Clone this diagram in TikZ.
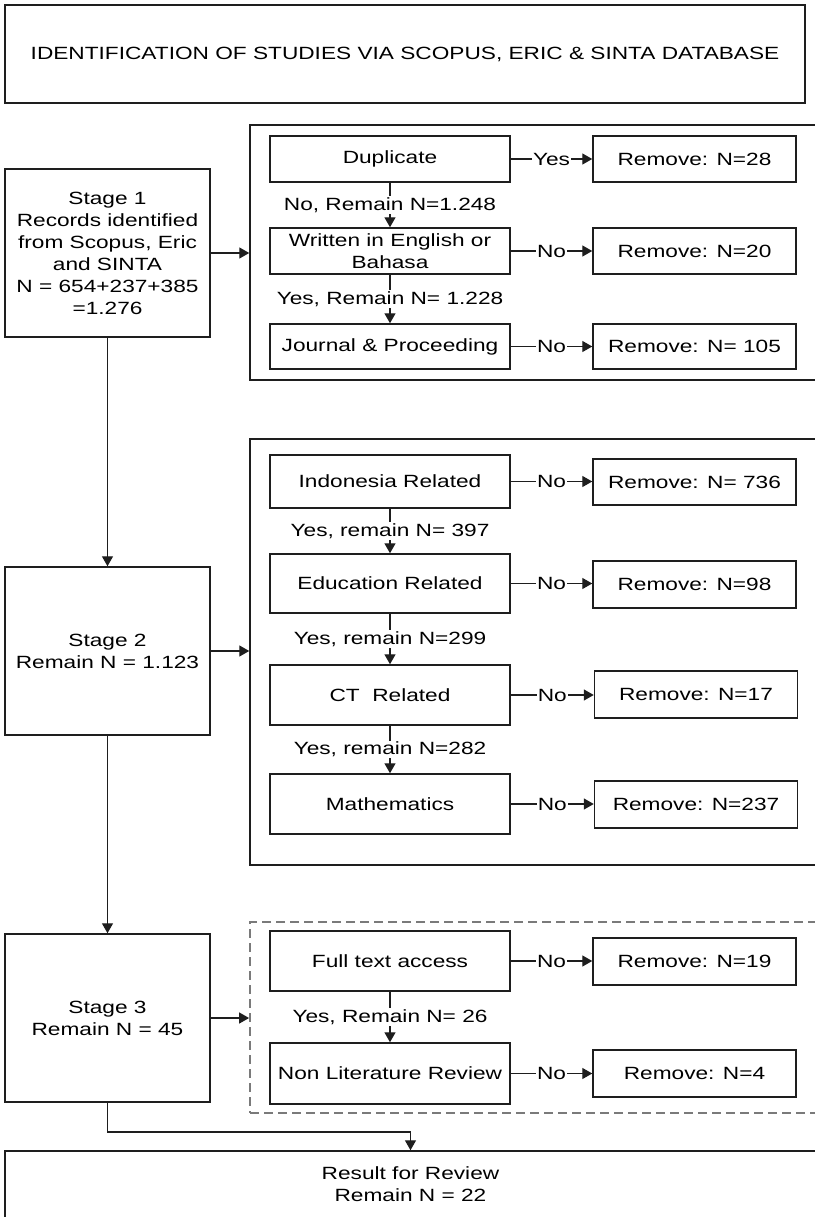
\documentclass[tikz,border=0pt]{standalone}
\usepackage{fontspec}
\setmainfont{Liberation Sans}[FakeStretch=1.28]
\usetikzlibrary{arrows.meta}
\definecolor{ln}{HTML}{1E1E1E}
\definecolor{dsh}{HTML}{7A7A7A}
\begin{document}
\begin{tikzpicture}[x=1pt,y=-1pt,
  bx/.style={draw=ln, line width=1.5pt, inner sep=0pt, align=center, fill=white,
    font=\fontsize{17.7}{22}\selectfont},
  grp/.style={draw=ln, line width=1.5pt, inner sep=0pt},
  dgrp/.style={draw=dsh, line width=1.8pt, dash pattern=on 9pt off 5pt, inner sep=0pt},
  arr/.style={draw=ln, line width=1.4pt, -{Triangle[length=10pt,width=11pt]}},
  lbl/.style={fill=white, inner sep=1pt, font=\fontsize{17.7}{22}\selectfont}
]
\useasboundingbox (0,0) rectangle (814,1217);

% title
\node[bx, minimum width=800, minimum height=98] (title) at (405,54)
  {IDENTIFICATION OF STUDIES VIA SCOPUS, ERIC \& SINTA DATABASE};

% stages
\node[bx, minimum width=205, minimum height=168] (s1) at (107.5,253)
  {Stage 1\\Records identified\\from Scopus, Eric\\and SINTA\\N = 654+237+385\\=1.276};
\node[bx, minimum width=205, minimum height=168] (s2) at (107.5,651)
  {Stage 2\\Remain N = 1.123};
\node[bx, minimum width=205, minimum height=168] (s3) at (107.5,1018)
  {Stage 3\\Remain N = 45};

% groups
\node[grp, minimum width=566, minimum height=255] (g1) at (533,252.5) {};
\node[grp, minimum width=566, minimum height=426] (g2) at (533,652) {};
\node[dgrp, minimum width=566, minimum height=191] (g3) at (533,1017.5) {};

% group 1
\node[bx, minimum width=240, minimum height=46] (dup) at (390,159) {Duplicate};
\node[bx, minimum width=203, minimum height=46] (r1) at (694.5,159) {Remove: N=28};
\node[bx, minimum width=240, minimum height=46] (eng) at (390,251) {Written in English or\\Bahasa};
\node[bx, minimum width=203, minimum height=46] (r2) at (694.5,251) {Remove: N=20};
\node[bx, minimum width=240, minimum height=45] (jou) at (390,346.5) {Journal \& Proceeding};
\node[bx, minimum width=203, minimum height=45] (r3) at (694.5,346.5) {Remove: N= 105};

% group 2
\node[bx, minimum width=240, minimum height=53] (ind) at (390,481.5) {Indonesia Related};
\node[bx, minimum width=203, minimum height=46] (r4) at (694.5,482) {Remove: N= 736};
\node[bx, minimum width=240, minimum height=59] (edu) at (390,583.5) {Education Related};
\node[bx, minimum width=203, minimum height=47] (r5) at (694.5,584.5) {Remove: N=98};
\node[bx, minimum width=240, minimum height=60] (ct) at (390,695) {CT\ \ Related};
\node[bx, minimum width=203, minimum height=47] (r6) at (696,694.5) {Remove: N=17};
\node[bx, minimum width=240, minimum height=60] (mat) at (390,804) {Mathematics};
\node[bx, minimum width=203, minimum height=47] (r7) at (696,804.5) {Remove: N=237};

% group 3
\node[bx, minimum width=240, minimum height=60] (ful) at (390,961) {Full text access};
\node[bx, minimum width=203, minimum height=47] (r8) at (694.5,961.5) {Remove: N=19};
\node[bx, minimum width=240, minimum height=61] (nlr) at (390,1073.5) {Non Literature Review};
\node[bx, minimum width=203, minimum height=47] (r9) at (694.5,1073.5) {Remove: N=4};

% result
\node[bx, minimum width=811, minimum height=67] (res) at (410.5,1184.5)
  {Result for Review\\Remain N = 22};

% horizontal yes/no connectors
\draw[arr] (dup.east) -- node[lbl]{Yes} (dup.east -| r1.west);
\draw[arr] (eng.east) -- node[lbl]{No} (eng.east -| r2.west);
\draw[arr] (jou.east) -- node[lbl]{No} (jou.east -| r3.west);
\draw[arr] (ind.east) -- node[lbl]{No} (ind.east -| r4.west);
\draw[arr] (edu.east) -- node[lbl]{No} (edu.east -| r5.west);
\draw[arr] (ct.east) -- node[lbl]{No} (ct.east -| r6.west);
\draw[arr] (mat.east) -- node[lbl]{No} (mat.east -| r7.west);
\draw[arr] (ful.east) -- node[lbl]{No} (ful.east -| r8.west);
\draw[arr] (nlr.east) -- node[lbl]{No} (nlr.east -| r9.west);

% vertical connectors
\draw[arr] (dup.south) -- node[lbl]{No, Remain N=1.248} (eng.north);
\draw[arr] (eng.south) -- node[lbl]{Yes, Remain N= 1.228} (jou.north);
\draw[arr] (ind.south) -- node[lbl]{Yes, remain N= 397} (edu.north);
\draw[arr] (edu.south) -- node[lbl]{Yes, remain N=299} (ct.north);
\draw[arr] (ct.south) -- node[lbl]{Yes, remain N=282} (mat.north);
\draw[arr] (ful.south) -- node[lbl]{Yes, Remain N= 26} (nlr.north);

% stage connectors
\draw[arr] (s1.east) -- (s1.east -| g1.west);
\draw[arr] (s2.east) -- (s2.east -| g2.west);
\draw[arr] (s3.east) -- (s3.east -| g3.west);
\draw[arr] (s1.south) -- (s2.north);
\draw[arr] (s2.south) -- (s3.north);
\coordinate (elb) at (410.5,1132);
\draw[arr] (s3.south) |- (elb) -- (res.north);
\end{tikzpicture}
\end{document}
